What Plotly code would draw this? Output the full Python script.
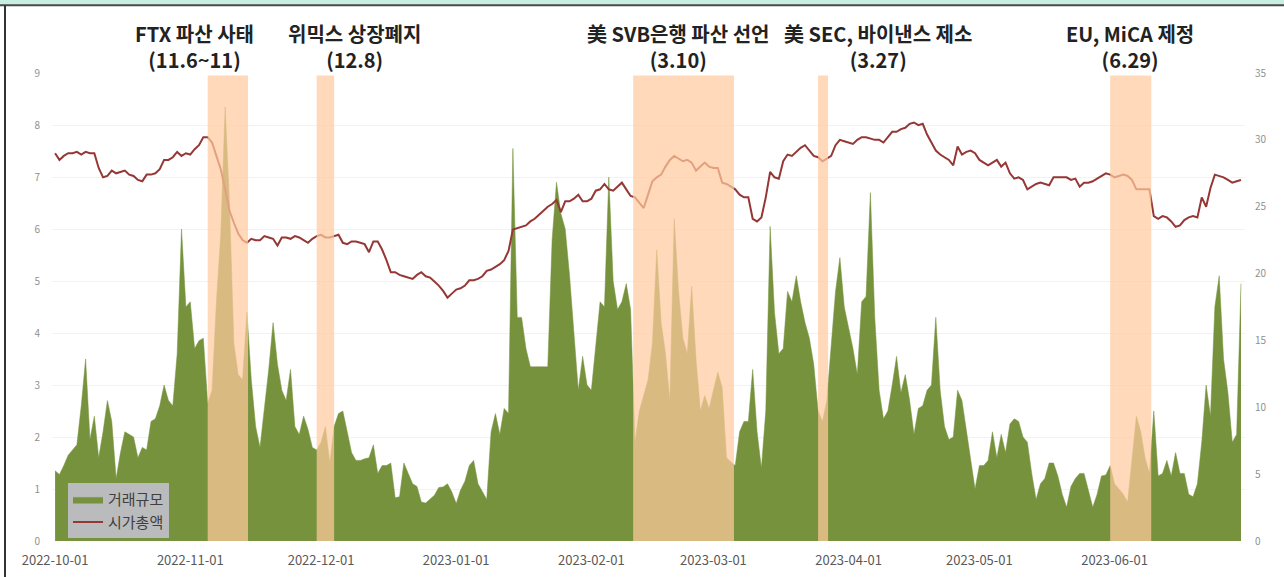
import pandas as pd
import plotly.graph_objects as go

# daily data, 2022-10-01 .. 2023-06-30
dates = pd.date_range("2022-10-01", periods=273, freq="D")

volume = [
    1.35, 1.28, 1.45, 1.65, 1.75, 1.85, 2.6, 3.5, 1.95, 2.4,
    1.6, 2.1, 2.7, 2.3, 1.2, 1.7, 2.1, 2.05, 2.0, 1.6,
    1.8, 1.75, 2.3, 2.35, 2.6, 3.0, 2.7, 2.6, 3.6, 6.0,
    4.5, 4.6, 3.7, 3.85, 3.9, 2.65, 2.9, 4.6, 5.9, 8.35,
    6.5, 3.8, 3.2, 3.1, 4.4, 3.1, 2.2, 1.8, 2.5, 3.3,
    4.2, 3.4, 2.9, 2.7, 3.3, 2.2, 2.05, 2.4, 2.15, 1.8,
    1.75, 1.9, 2.2, 1.5, 2.2, 2.45, 2.5, 2.1, 1.7, 1.55,
    1.55, 1.58, 1.6, 1.85, 1.3, 1.45, 1.45, 1.5, 0.83, 0.85,
    1.5, 1.3, 1.1, 1.05, 0.75, 0.73, 0.8, 0.88, 1.03, 1.04,
    1.1, 0.94, 0.72, 0.98, 1.15, 1.45, 1.55, 1.1, 0.95, 0.8,
    2.1, 2.45, 2.05, 2.55, 2.45, 7.55, 4.3, 4.3, 3.7, 3.35,
    3.35, 3.35, 3.35, 3.35, 5.8, 6.9, 6.3, 6.0, 5.1, 4.0,
    2.9, 3.55, 3.0, 2.9, 3.8, 4.6, 4.5, 7.0, 5.0, 4.45,
    4.6, 4.95, 4.45, 1.9, 2.5, 2.8, 3.1, 3.8, 5.6, 4.2,
    3.6, 2.7, 6.2, 4.8, 3.9, 3.6, 4.9, 3.5, 2.5, 2.8,
    2.55, 2.9, 3.25, 2.95, 1.6, 1.52, 1.45, 2.1, 2.3, 2.3,
    3.3, 2.1, 1.4, 2.5, 6.05, 4.4, 3.6, 3.7, 4.8, 4.6,
    5.1, 4.6, 4.2, 3.9, 3.4, 2.5, 2.3, 2.7, 3.7, 4.8,
    5.45, 4.5, 4.1, 3.7, 3.2, 4.6, 4.7, 6.7, 4.3, 2.9,
    2.35, 2.5, 3.0, 3.55, 2.85, 3.2, 2.7, 2.05, 2.55, 2.6,
    2.9, 3.0, 4.3, 2.9, 2.2, 1.95, 2.0, 2.9, 2.7, 2.1,
    1.5, 1.0, 1.45, 1.45, 1.55, 2.1, 1.6, 2.05, 1.7, 2.25,
    2.35, 2.3, 2.0, 1.9, 1.3, 0.8, 1.1, 1.2, 1.5, 1.5,
    1.25, 0.9, 0.65, 1.05, 1.2, 1.3, 1.3, 0.95, 0.65, 0.9,
    1.25, 1.27, 1.45, 1.1, 1.0, 0.9, 0.75, 1.6, 2.4, 2.1,
    1.6, 1.3, 2.5, 1.25, 1.3, 1.55, 1.25, 1.7, 1.3, 1.3,
    0.9, 0.85, 1.1, 1.9, 3.0, 2.4, 4.5, 5.1, 3.5, 2.85,
    1.9, 2.05, 4.95,
]

market_cap = [
    29.0, 28.5, 28.8, 29.0, 29.0, 29.1, 28.9, 29.1, 29.0, 29.0,
    27.9, 27.2, 27.3, 27.7, 27.5, 27.6, 27.7, 27.4, 27.3, 27.0,
    26.9, 27.4, 27.4, 27.5, 27.8, 28.5, 28.5, 28.7, 29.1, 28.8,
    29.0, 28.9, 29.3, 29.6, 30.2, 30.2, 29.8, 28.8, 27.8, 26.3,
    24.7, 23.8, 23.0, 22.5, 22.3, 22.6, 22.5, 22.5, 22.8, 22.7,
    22.6, 22.1, 22.7, 22.7, 22.6, 22.8, 22.7, 22.5, 22.3, 22.6,
    22.8, 22.9, 22.7, 22.7, 22.8, 22.9, 22.3, 22.2, 22.4, 22.4,
    22.3, 22.2, 21.6, 22.4, 22.4, 21.8, 21.0, 20.1, 20.1, 19.9,
    19.8, 19.7, 19.6, 19.9, 20.1, 19.8, 19.7, 19.4, 19.1, 18.7,
    18.2, 18.5, 18.8, 18.9, 19.1, 19.5, 19.5, 19.6, 19.8, 20.2,
    20.3, 20.5, 20.7, 21.0, 21.7, 23.3, 23.4, 23.5, 23.6, 23.9,
    24.1, 24.4, 24.7, 25.0, 25.2, 25.5, 24.6, 25.4, 25.4, 25.6,
    25.9, 25.4, 25.4, 25.6, 26.2, 26.3, 26.7, 26.3, 26.2, 26.5,
    26.8, 26.3, 25.8, 25.7, 25.3, 24.9, 25.9, 26.9, 27.2, 27.4,
    28.0, 28.5, 28.8, 28.6, 28.4, 28.5, 28.3, 27.7, 28.0, 28.3,
    28.0, 27.9, 27.9, 26.8, 26.7, 26.5, 26.3, 25.9, 25.7, 25.7,
    24.1, 23.9, 24.2, 25.7, 27.6, 27.2, 27.1, 28.4, 28.9, 28.8,
    29.1, 29.4, 29.6, 29.2, 28.8, 28.7, 28.4, 28.6, 28.8, 29.6,
    30.0, 29.9, 29.8, 29.7, 30.0, 30.2, 30.2, 30.1, 30.0, 30.0,
    29.8, 30.2, 30.6, 30.6, 30.8, 30.9, 31.2, 31.3, 31.1, 31.2,
    30.4, 29.8, 29.2, 28.9, 28.7, 28.5, 28.1, 29.5, 28.9, 29.1,
    29.2, 29.0, 28.5, 28.3, 28.1, 28.3, 28.5, 28.0, 28.3, 27.5,
    27.1, 27.2, 27.0, 26.3, 26.5, 26.7, 26.8, 26.7, 26.6, 27.2,
    27.2, 27.2, 27.2, 27.0, 27.1, 26.5, 26.8, 26.8, 26.9, 27.1,
    27.3, 27.5, 27.4, 27.2, 27.3, 27.4, 27.3, 27.0, 26.3, 26.3,
    26.3, 26.3, 24.3, 24.1, 24.3, 24.2, 23.9, 23.5, 23.6, 24.0,
    24.2, 24.3, 24.2, 25.7, 25.0, 26.4, 27.4, 27.3, 27.2, 27.0,
    26.8, 26.9, 27.0,
]

# event bands (start, end) and labels
event_start = ["2022-11-05", "2022-11-30", "2023-02-10 14:00", "2023-03-25", "2023-05-31"]
event_end = ["2022-11-14 06:00", "2022-12-04", "2023-03-05 17:00", "2023-03-27 07:00", "2023-06-09 10:00"]
event_label = ["FTX 파산 사태", "위믹스 상장폐지", "美 SVB은행 파산 선언", "美 SEC, 바이낸스 제소", "EU, MiCA 제정"]
event_date = ["(11.6~11)", "(12.8)", "(3.10)", "(3.27)", "(6.29)"]
label_pos = ["2022-11-02", "2022-12-08 18:00", "2023-02-21", "2023-04-07 18:00", "2023-06-04 14:00"]

font = "Noto Sans CJK KR"

fig = go.Figure()
fig.add_trace(go.Scatter(
    x=dates, y=volume, name="거래규모", mode="lines",
    fill="tozeroy", fillcolor="#76923C",
    line=dict(color="#76923C", width=0.5),
))
fig.add_trace(go.Scatter(
    x=dates, y=market_cap, name="시가총액", mode="lines",
    line=dict(color="#953735", width=2), yaxis="y2",
))

for s, e in zip(event_start, event_end):
    fig.add_shape(type="rect", xref="x", yref="y", x0=s, x1=e, y0=0, y1=8.95,
                  fillcolor="rgba(255,203,158,0.72)", line_width=0, layer="above")

for pos, lab, dt in zip(label_pos, event_label, event_date):
    fig.add_annotation(x=pos, xref="x", y=1.0556, yref="paper",
                       xanchor="center", yanchor="middle",
                       text="<b>%s</b><br><b>%s</b>" % (lab, dt),
                       showarrow=False, font=dict(family=font, size=20, color="#222222"))

# outer frame: mint top strip and dark border lines
fig.add_shape(type="rect", xref="paper", yref="paper", x0=-0.06, x1=1.05, y0=1.145, y1=1.2,
              fillcolor="#C8EEDF", line=dict(color="#4a4a4a", width=2))
fig.add_shape(type="line", xref="paper", yref="paper", x0=-0.0394, x1=-0.0394, y0=-0.1, y1=1.145,
              line=dict(color="#333333", width=2))

fig.update_layout(
    width=1284, height=577,
    margin=dict(l=52, r=39, t=73, b=36),
    paper_bgcolor="white", plot_bgcolor="white",
    font=dict(family=font, color="#595959"),
    showlegend=True,
    legend=dict(x=0.0134, y=0.006, xanchor="left", yanchor="bottom",
                bgcolor="rgba(190,190,196,0.95)", borderwidth=0,
                font=dict(size=15, color="#404040"), tracegroupgap=0),
    xaxis=dict(
        type="date", range=["2022-09-30 07:00", "2023-06-30 22:00"],
        tickvals=pd.date_range("2022-10-01", "2023-06-01", freq="MS"),
        tickformat="%Y-%m-%d", tickfont=dict(size=13, color="#595959"),
        showgrid=False, showline=False, ticks="", zeroline=False,
        ticklabelstandoff=10, automargin=False,
    ),
    yaxis=dict(
        range=[0, 9], dtick=1, tickfont=dict(size=10, color="#909090"),
        showgrid=True, gridcolor="#F2F2F2", zeroline=False, ticks="",
        ticklabelstandoff=11, automargin=False,
    ),
    yaxis2=dict(
        range=[0, 35], dtick=5, overlaying="y", side="right",
        tickfont=dict(size=10, color="#909090"), showgrid=False, zeroline=False,
        ticklabelstandoff=9, automargin=False,
    ),
)

fig.write_html("out.html", config={"displayModeBar": False},
               post_script="document.body.style.margin='0';")
